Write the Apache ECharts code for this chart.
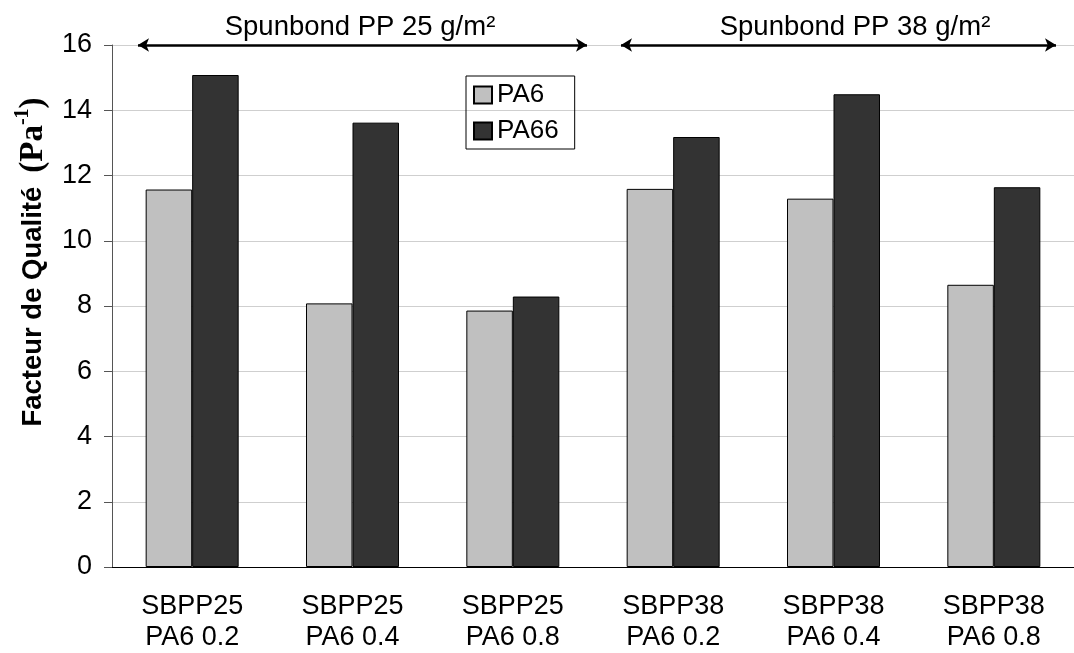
<!DOCTYPE html>
<html>
<head>
<meta charset="utf-8">
<script src="https://cdn.jsdelivr.net/npm/echarts@6/dist/echarts.min.js"></script>
<style>
html,body{margin:0;padding:0;background:#fff;}
#main{width:1074px;height:653px;}
</style>
</head>
<body>
<div id="main"></div>
<script>
var categories = ['SBPP25\nPA6 0.2', 'SBPP25\nPA6 0.4', 'SBPP25\nPA6 0.8',
                  'SBPP38\nPA6 0.2', 'SBPP38\nPA6 0.4', 'SBPP38\nPA6 0.8'];
var pa6 = [11.57, 8.08, 7.86, 11.59, 11.29, 8.65];
var pa66 = [15.08, 13.62, 8.29, 13.18, 14.49, 11.64];
var groupLabels = ['Spunbond PP 25 g/m²', 'Spunbond PP 38 g/m²'];

var chart = echarts.init(document.getElementById('main'));

var font = 'Arial, "Liberation Sans", sans-serif';
var serif = '"Liberation Serif", "Times New Roman", serif';

// fleches des deux groupes (pixels)
var arrows = [
    [{x: 138, y: 45}, {x: 587, y: 45}],
    [{x: 621, y: 45}, {x: 1056, y: 45}]
];

var option = {
    animation: false,
    backgroundColor: '#fff',
    grid: {
        left: 112,
        right: -7,
        top: 45,
        bottom: 86
    },
    legend: {
        orient: 'vertical',
        left: 466,
        top: 76,
        padding: [6, 16, 5, 7],
        borderColor: '#000',
        borderWidth: 1,
        itemWidth: 18,
        itemHeight: 17,
        itemGap: 10,
        icon: 'rect',
        selectedMode: false,
        textStyle: {fontSize: 26, fontFamily: font, color: '#000'},
        data: ['PA6', 'PA66']
    },
    xAxis: {
        type: 'category',
        data: categories,
        axisLine: {lineStyle: {color: '#000', width: 1}},
        axisTick: {length: 9, lineStyle: {color: '#333'}},
        axisLabel: {
            fontSize: 27,
            fontFamily: font,
            color: '#000',
            lineHeight: 31,
            margin: 24
        }
    },
    yAxis: {
        type: 'value',
        min: 0,
        max: 16,
        interval: 2,
        axisLine: {show: true, lineStyle: {color: '#555', width: 1}},
        axisTick: {show: true, length: 8, lineStyle: {color: '#555'}},
        axisLabel: {fontSize: 27, fontFamily: font, color: '#000', margin: 20},
        splitLine: {lineStyle: {color: '#cfcfcf', width: 1}}
    },
    series: [
        {
            name: 'PA6',
            type: 'bar',
            data: pa6,
            barGap: '0%',
            barCategoryGap: '42%',
            itemStyle: {color: '#c0c0c0', borderColor: '#000', borderWidth: 1},
            markLine: {
                silent: true,
                symbol: ['arrow', 'arrow'],
                symbolSize: [10, 11],
                label: {show: false},
                lineStyle: {color: '#000', width: 2.5, type: 'solid'},
                data: arrows
            }
        },
        {
            name: 'PA66',
            type: 'bar',
            data: pa66,
            itemStyle: {color: '#333333', borderColor: '#000', borderWidth: 1}
        }
    ],
    graphic: [
        {
            type: 'text',
            x: 360, y: 27,
            style: {
                text: groupLabels[0], fontSize: 27.5, fontFamily: font, fill: '#000',
                align: 'center', verticalAlign: 'middle'
            }
        },
        {
            type: 'text',
            x: 855, y: 27,
            style: {
                text: groupLabels[1], fontSize: 27.5, fontFamily: font, fill: '#000',
                align: 'center', verticalAlign: 'middle'
            }
        },
        {
            type: 'text',
            x: 33, y: 262,
            rotation: Math.PI / 2,
            style: {
                text: '{a|Facteur de Qualité}{g|}{b|(Pa}{s|-1}{b|)}',
                align: 'center',
                verticalAlign: 'middle',
                fill: '#000',
                rich: {
                    a: {fontSize: 27.5, fontWeight: 'bold', fontFamily: font},
                    g: {width: 14},
                    b: {fontSize: 33, fontWeight: 'bold', fontFamily: serif},
                    s: {fontSize: 20, fontWeight: 'bold', fontFamily: serif, padding: [0, 0, 20, 0]}
                }
            }
        }
    ]
};

chart.setOption(option);
</script>
</body>
</html>
